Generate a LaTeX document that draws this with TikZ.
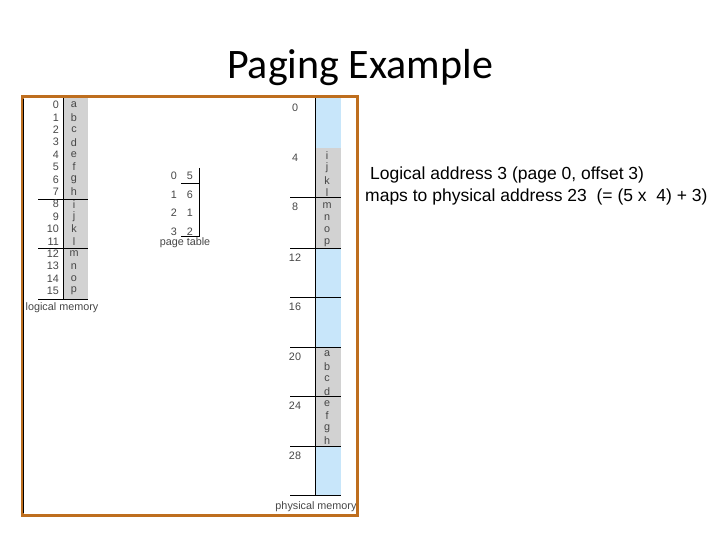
\documentclass[tikz,border=0pt]{standalone}
\usepackage{fontspec}
\setmainfont{Liberation Sans}
\newfontfamily\titlefont{Carlito}
\definecolor{frame}{RGB}{190,110,30}
\definecolor{lblue}{RGB}{200,230,250}
\definecolor{lgray}{RGB}{210,210,210}
\definecolor{txt}{RGB}{70,70,70}
\begin{document}
\begin{tikzpicture}[x=1pt,y=-1pt,
  sm/.style={font=\fontsize{10.8}{11}\selectfont,text=txt,inner sep=0pt},
  ln/.style={draw=black,line width=0.8pt}]
\useasboundingbox (0,0) rectangle (720,540);
\node[font=\titlefont\fontsize{42}{46}\selectfont] (title) at (360,68) {Paging Example};
% physical memory fills
\fill[lblue] (315,98) rectangle (341,148);
\fill[lgray] (315,148) rectangle (341,248);
\fill[lblue] (315,248) rectangle (341,347);
\fill[lgray] (315,347) rectangle (341,446);
\fill[lblue] (315,446) rectangle (341,495);
\draw[ln] (315,98) -- (315,495);
\foreach \y in {197,248,297,347,396,446,495} \draw[ln] (290,\y) -- (341,\y);
\foreach \a/\y in {0/108,4/158,8/207,12/258,16/307,20/357,24/406,28/456}
  \node[sm] (pa\a) at (295,\y) {\a};
\foreach \c [count=\i from 0] in {i,j,k,l,m,n,o,p} \node[sm] (pc\c) at (327,155.5+12.4*\i) {\c};
\foreach \c [count=\i from 0] in {a,b,c,d,e,f,g,h} \node[sm] (pd\c) at (327,354+12.4*\i) {\c};
\node[sm] (pmem) at (316,507) {physical memory};
% logical memory
\fill[lgray] (63,98) rectangle (88,299);
\draw[ln] (63,98) -- (63,299);
\foreach \y in {199,248,299} \draw[ln] (38,\y) -- (88,\y);
\foreach \c [count=\i from 0] in {a,b,c,d,e,f,g,h,i,j,k,l,m,n,o,p} {
  \node[sm,anchor=east] (ln\i) at (59,105+12.4*\i) {\i};
  \node[sm] (lc\c) at (74,105+12.4*\i) {\c};
}
\node[sm] (lmem) at (62,308) {logical memory};
% page table
\draw[ln] (199,168) -- (199,236) -- (181,236);
\draw[ln] (181,183) -- (199,183);
\foreach \p/\f [count=\i from 0] in {0/5,1/6,2/1,3/2} {
  \node[sm] (pp\p) at (174,176+18.5*\i) {\p};
  \node[sm] (pf\p) at (190,176+18.5*\i) {\f};
}
\node[sm] (pt) at (185,243) {page table};
% frame
\draw[frame,line width=3pt] (22,97) rectangle (357,515);
\draw[black,line width=1.5pt] (23.5,99) -- (23.5,513);
% text
\node[font=\fontsize{17.5}{22}\selectfont,align=left,anchor=north west,inner sep=0pt] (note) at (365,167)
 {\ Logical address 3 (page 0, offset 3)\\ maps to physical address 23 \ (= (5 x \ 4) + 3)};
\end{tikzpicture}
\end{document}
